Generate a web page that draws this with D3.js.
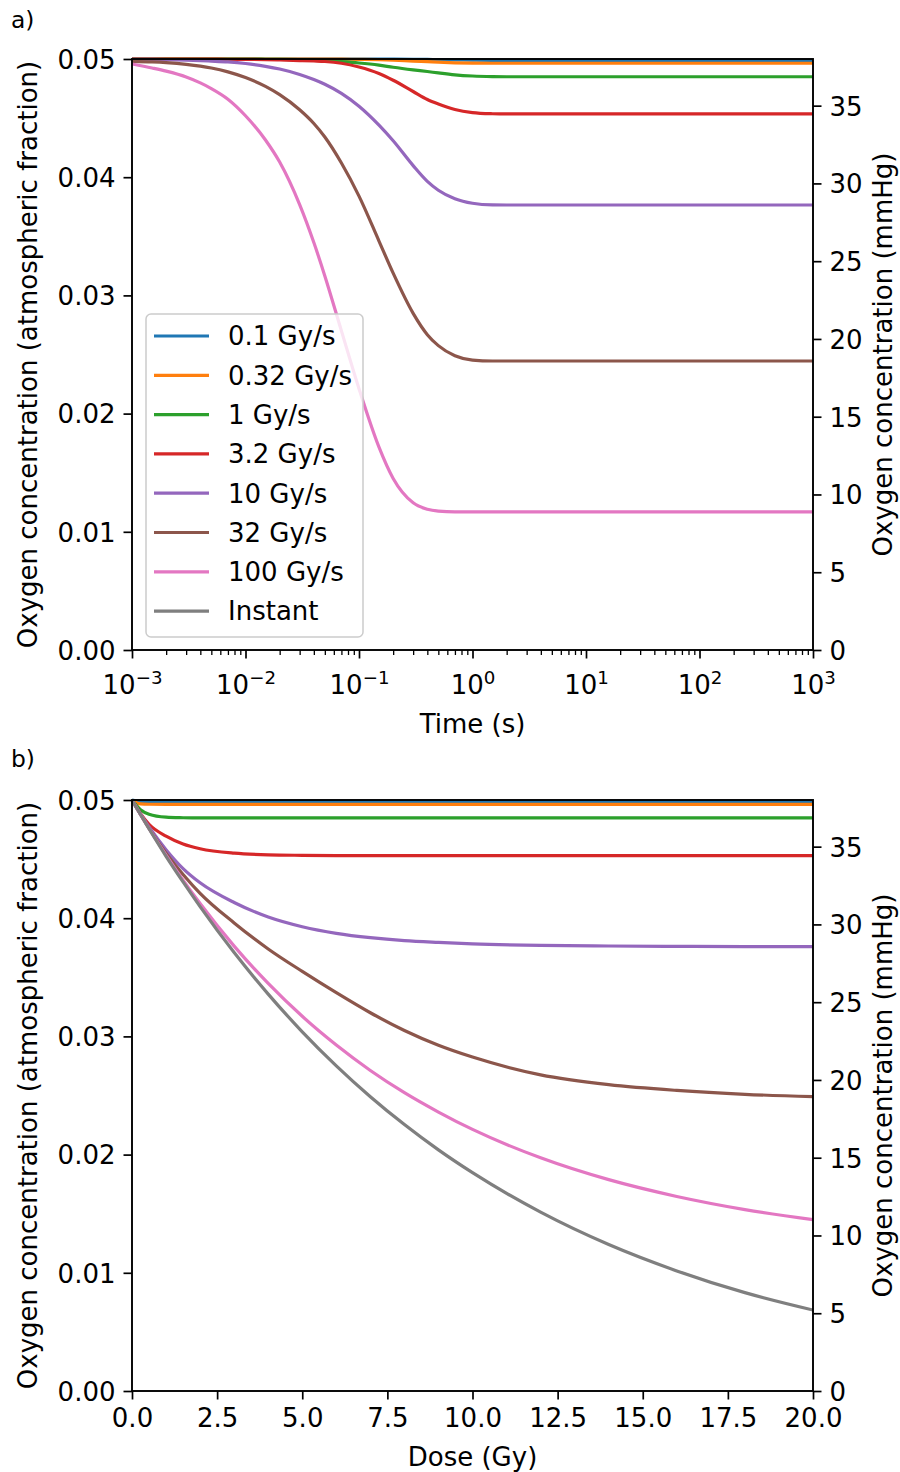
<!DOCTYPE html>
<html><head><meta charset="utf-8">
<script src="https://cdn.jsdelivr.net/npm/d3@7"></script>
<style>body{margin:0;background:#fff} text{font-family:'DejaVu Sans',sans-serif;fill:#000}</style>
</head><body><svg id="c" width="900" height="1472"></svg>
<script>
// ---------- data ----------
const seriesNames  = ["0.1 Gy/s","0.32 Gy/s","1 Gy/s","3.2 Gy/s","10 Gy/s","32 Gy/s","100 Gy/s","Instant"];
const seriesColors = ["#1f77b4","#ff7f0e","#2ca02c","#d62728","#9467bd","#8c564b","#e377c2","#7f7f7f"];

// panel a: oxygen fraction vs time (s)
const timeGrid = [0.001,0.0015,0.002,0.003,0.004,0.005,0.007,0.01,0.015,0.02,0.03,0.04,0.05,0.07,0.1,0.15,0.2,0.3,0.4,0.5,0.7,1,1.5,2,3,5,10,100,1000];
const timeA_0p1  = [0.05,0.05,0.05,0.05,0.05,0.05,0.05,0.05,0.05,0.05,0.05,0.05,0.05,0.05,0.05,0.04999,0.04999,0.04998,0.04996,0.04995,0.04993,0.04991,0.04989,0.04988,0.04988,0.04988,0.04988,0.04988,0.04988];
const timeA_0p32 = [0.05,0.05,0.05,0.05,0.05,0.05,0.05,0.05,0.05,0.05,0.05,0.05,0.05,0.04999,0.04997,0.04994,0.0499,0.04982,0.04977,0.04973,0.04968,0.04965,0.04964,0.04964,0.04964,0.04964,0.04964,0.04964,0.04964];
const timeA_1    = [0.05,0.05,0.05,0.05,0.05,0.05,0.04999,0.04999,0.04998,0.04997,0.04994,0.0499,0.04985,0.04977,0.04966,0.04948,0.0493,0.04908,0.04894,0.04882,0.04866,0.04856,0.04851,0.0485,0.0485,0.0485,0.0485,0.0485,0.0485];
const timeA_3p2  = [0.05,0.05,0.05,0.04999,0.04999,0.04999,0.04998,0.04997,0.04995,0.04992,0.04987,0.04983,0.04979,0.04964,0.04932,0.04877,0.0482,0.04725,0.04657,0.04619,0.04573,0.04547,0.04537,0.04535,0.04535,0.04535,0.04535,0.04535,0.04535];
const timeA_10   = [0.04997,0.04996,0.04994,0.0499,0.04986,0.04982,0.04975,0.04962,0.04938,0.04915,0.04869,0.04826,0.04786,0.04709,0.04600,0.04440,0.04308,0.04098,0.03965,0.03890,0.03818,0.0378,0.03766,0.03765,0.03765,0.03765,0.03765,0.03765,0.03765];
const timeA_32   = [0.0498,0.04975,0.04969,0.04955,0.0494,0.04924,0.04891,0.04843,0.04768,0.04698,0.0457,0.04454,0.0434,0.0412,0.0384,0.0346,0.03188,0.02848,0.02668,0.02575,0.0249,0.02453,0.02445,0.02445,0.02445,0.02445,0.02445,0.02445,0.02445];
const timeA_100  = [0.04958,0.04924,0.04897,0.04848,0.04798,0.0475,0.0466,0.0452,0.04315,0.04128,0.03768,0.03447,0.03165,0.027,0.02211,0.01716,0.01451,0.01245,0.01191,0.01175,0.01168,0.01168,0.01168,0.01168,0.01168,0.01168,0.01168,0.01168,0.01168];
const timeA_inst = [];

// panel b: oxygen fraction vs dose (Gy)
const doseGrid = [0,0.25,0.5,1,1.5,2,3,4,5,6,7,8,9,10,12,14,16,18,20];
const doseB_0p1  = [0.05,0.04988,0.04988,0.04988,0.04988,0.04988,0.04988,0.04988,0.04988,0.04988,0.04988,0.04988,0.04988,0.04988,0.04988,0.04988,0.04988,0.04988,0.04988];
const doseB_0p32 = [0.05,0.04967,0.04964,0.04963,0.04963,0.04963,0.04963,0.04963,0.04963,0.04963,0.04963,0.04963,0.04963,0.04963,0.04963,0.04963,0.04963,0.04963,0.04963];
const doseB_1    = [0.05,0.04918,0.0488,0.04855,0.0485,0.04848,0.04848,0.04848,0.04848,0.04848,0.04848,0.04848,0.04848,0.04848,0.04848,0.04848,0.04848,0.04848,0.04848];
const doseB_3p2  = [0.05,0.04885,0.04795,0.04694,0.04628,0.04588,0.0455,0.04536,0.04532,0.0453,0.04529,0.04529,0.04529,0.04529,0.04529,0.04529,0.04529,0.04529,0.04529];
const doseB_10   = [0.05,0.0488,0.04772,0.0458,0.0442,0.043,0.04133,0.0401,0.03928,0.03872,0.03835,0.0381,0.03795,0.03783,0.0377,0.03765,0.03762,0.0376,0.0376];
const doseB_32   = [0.05,0.04878,0.0476,0.0455,0.0437,0.0421,0.0396,0.0374,0.0355,0.0337,0.032,0.0305,0.02925,0.02825,0.02675,0.02592,0.02543,0.0251,0.0249];
const doseB_100  = [0.05,0.04878,0.04759,0.04534,0.04322,0.04124,0.03764,0.03448,0.0317,0.02927,0.02712,0.02524,0.0236,0.02213,0.01973,0.01788,0.01646,0.01535,0.0145];
const doseB_inst = [0.05,0.04877,0.04757,0.04524,0.04307,0.04098,0.03709,0.03358,0.03039,0.02751,0.0249,0.02254,0.0204,0.01847,0.01513,0.01239,0.01016,0.00832,0.00685];

// ticks
const fracTicks  = [0,0.01,0.02,0.03,0.04,0.05];
const mmHgTicks  = [0,5,10,15,20,25,30,35];
const timeTicks  = [1e-3,1e-2,1e-1,1,10,100,1000];
const timeExps   = ["\u22123","\u22122","\u22121","0","1","2","3"];
const doseTicks  = [0,2.5,5,7.5,10,12.5,15,17.5,20];
const mmHgPerFrac = 760;

const seriesA = [timeA_0p1,timeA_0p32,timeA_1,timeA_3p2,timeA_10,timeA_32,timeA_100,timeA_inst];
const seriesB = [doseB_0p1,doseB_0p32,doseB_1,doseB_3p2,doseB_10,doseB_32,doseB_100,doseB_inst];

// ---------- layout ----------
const FS = 26, TL = 8.5, TLm = 5, PAD = 8, LW = 3.2, SW = 1.9;
const L = 132, R = 813;
const panels = [{top:59, bot:650, tag:"a)", tagY:28, xlabY:733},
                {top:800, bot:1391, tag:"b)", tagY:767, xlabY:1466}];
const svg = d3.select("#c");

function drawPanel(p, x, xs, series, xlabel, isLog) {
  const y  = d3.scaleLinear().domain([0,0.05]).range([p.bot,p.top]);
  const yR = d3.scaleLinear().domain([0,0.05*mmHgPerFrac]).range([p.bot,p.top]);
  const g = svg.append("g");
  const cid = "clip"+p.top;
  g.append("clipPath").attr("id",cid).append("rect")
    .attr("x",L).attr("y",p.top-3).attr("width",R-L).attr("height",p.bot-p.top+3);
  const line = d3.line().x((d,i)=>x(xs[i])).y(d=>y(d)).curve(d3.curveMonotoneX);
  series.forEach((s,k)=>{
    if(!s.length) return;
    g.append("path").attr("d",line(s)).attr("fill","none")
      .attr("stroke",seriesColors[k]).attr("stroke-width",LW)
      .attr("clip-path",`url(#${cid})`);
  });
  const styleAxis = sel => { sel.select(".domain").remove();
    sel.selectAll(".tick line").attr("stroke","#000").attr("stroke-width",1.7);
    sel.selectAll(".tick text").attr("font-size",FS).attr("font-family","'DejaVu Sans'").attr("fill","#000"); };
  g.append("g").attr("transform",`translate(${L},0)`)
    .call(d3.axisLeft(y).tickValues(fracTicks).tickFormat(d3.format(".2f")).tickSize(TL).tickPadding(PAD))
    .call(styleAxis).selectAll(".tick text").attr("dy","0.36em");
  g.append("g").attr("transform",`translate(${R},0)`)
    .call(d3.axisRight(yR).tickValues(mmHgTicks).tickSize(TL).tickPadding(PAD))
    .call(styleAxis).selectAll(".tick text").attr("dy","0.36em");
  if (isLog) {
    const minor = x.ticks().filter(t => !timeTicks.some(m => Math.abs(m-t)/m < 1e-9));
    g.append("g").attr("transform",`translate(0,${p.bot})`)
      .call(d3.axisBottom(x).tickValues(minor).tickFormat("").tickSize(TLm))
      .call(styleAxis).selectAll(".tick line").attr("stroke-width",1.3);
    const ax = g.append("g").attr("transform",`translate(0,${p.bot})`)
      .call(d3.axisBottom(x).tickValues(timeTicks).tickFormat("").tickSize(TL))
      .call(styleAxis);
    ax.selectAll(".tick").each(function(d,i){
      const t = d3.select(this).append("text").attr("font-size",FS).attr("text-anchor","middle")
        .attr("y",44).attr("x",0);
      t.append("tspan").text("10");
      t.append("tspan").attr("font-size",FS*0.7).attr("dy",-10).text(timeExps[i]);
    });
  } else {
    g.append("g").attr("transform",`translate(0,${p.bot})`)
      .call(d3.axisBottom(x).tickValues(doseTicks).tickFormat(d3.format(".1f")).tickSize(TL).tickPadding(PAD))
      .call(styleAxis).selectAll(".tick text").attr("dy","0.76em");
  }
  g.append("rect").attr("x",L).attr("y",p.top).attr("width",R-L).attr("height",p.bot-p.top)
    .attr("fill","none").attr("stroke","#000").attr("stroke-width",SW);
  const cy = (p.top+p.bot)/2;
  g.append("text").attr("transform",`translate(37,${cy}) rotate(-90)`).attr("text-anchor","middle")
    .attr("font-size",FS).text("Oxygen concentration (atmospheric fraction)");
  g.append("text").attr("transform",`translate(892,${cy}) rotate(-90)`).attr("text-anchor","middle")
    .attr("font-size",FS).text("Oxygen concentration (mmHg)");
  g.append("text").attr("x",(L+R)/2).attr("y",p.xlabY).attr("text-anchor","middle")
    .attr("font-size",FS).text(xlabel);
  g.append("text").attr("x",11).attr("y",p.tagY).attr("font-size",FS*0.9).text(p.tag);
  return g;
}

const xA = d3.scaleLog().domain([1e-3,1e3]).range([L,R]);
const xB = d3.scaleLinear().domain([0,20]).range([L,R]);
const gA = drawPanel(panels[0], xA, timeGrid, seriesA, "Time (s)", true);
drawPanel(panels[1], xB, doseGrid, seriesB, "Dose (Gy)", false);

// legend (panel a)
const lg = gA.append("g");
lg.append("rect").attr("x",146).attr("y",314).attr("width",217).attr("height",323).attr("rx",5)
  .attr("fill","#fff").attr("fill-opacity",0.8).attr("stroke","#cccccc").attr("stroke-width",1.5);
seriesNames.forEach((n,k)=>{
  const cy = 336 + k*39.3;
  lg.append("line").attr("x1",154).attr("x2",209).attr("y1",cy).attr("y2",cy)
    .attr("stroke",seriesColors[k]).attr("stroke-width",LW);
  lg.append("text").attr("x",228).attr("y",cy).attr("dy","0.36em").attr("font-size",FS).text(n);
});
</script></body></html>
